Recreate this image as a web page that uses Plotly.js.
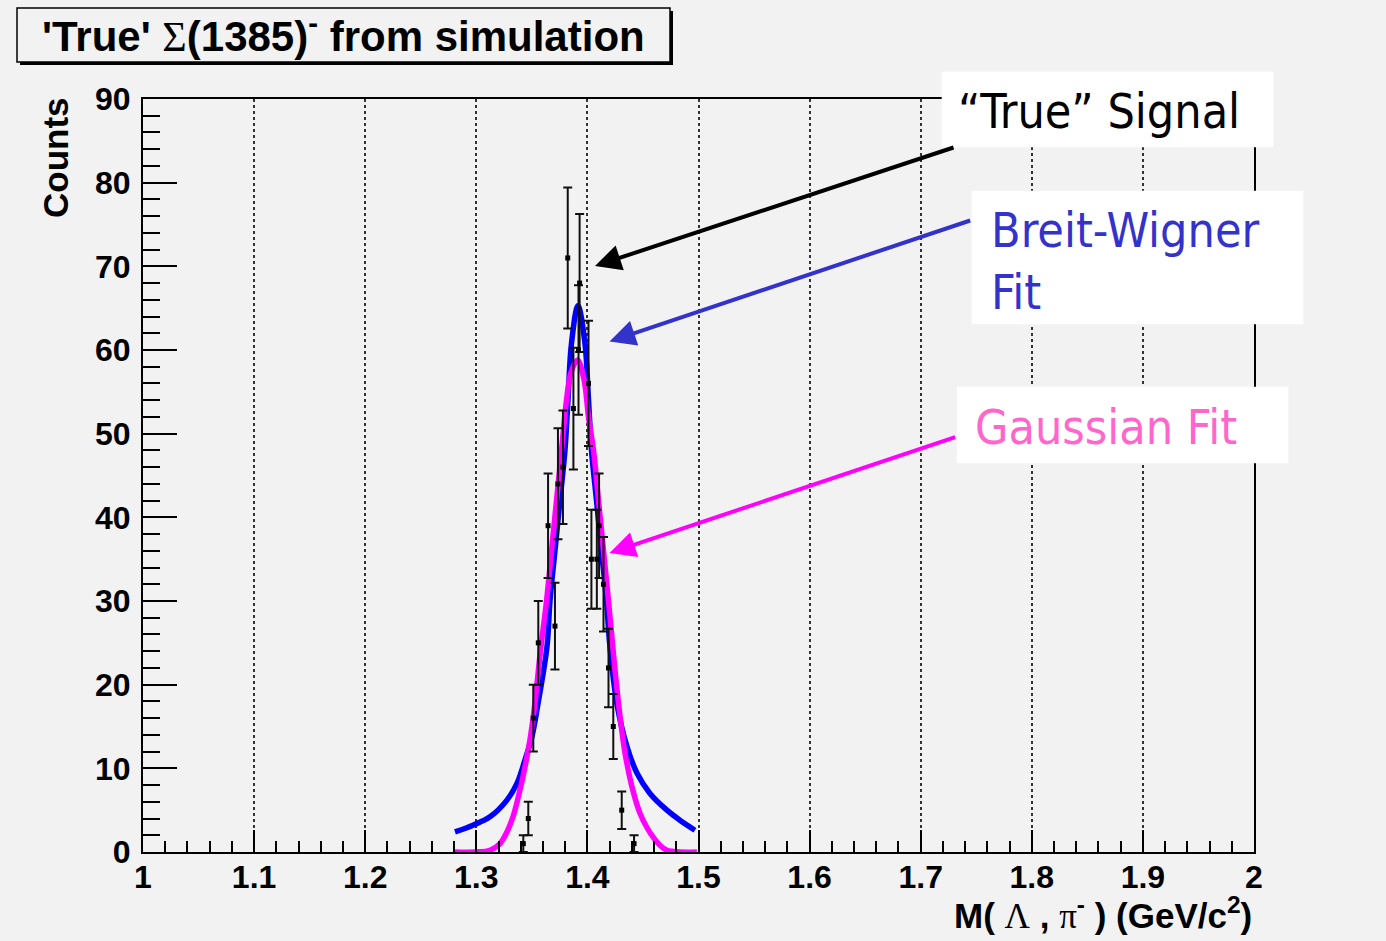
<!DOCTYPE html>
<html>
<head>
<meta charset="utf-8">
<script src="https://cdn.plot.ly/plotly-3.0.1.min.js"></script>
<style>
  html, body { margin: 0; padding: 0; background: #f2f2f2; }
  #chart { width: 1386px; height: 941px; }
</style>
</head>
<body>
<div id="chart"></div>
<script>
// Simulated Sigma(1385)- invariant mass histogram (bin centres and counts)
const massBins = [1.3423, 1.3468, 1.3513, 1.3558, 1.3646, 1.3708, 1.3735, 1.3780, 1.3823, 1.3874, 1.3920,
                  1.3930, 1.4010, 1.4036, 1.4085, 1.4105, 1.4145, 1.4190, 1.4233, 1.4309, 1.4420];
const counts   = [1, 4, 16, 25, 39, 27, 44, 46, 71, 53, 60,
                  68, 56, 35, 35, 39, 32, 22, 15, 5, 1];

// Breit-Wigner fit curve, sampled
const bwMass   = [1.2808, 1.2970, 1.3123, 1.3276, 1.3366, 1.3438, 1.3501, 1.3555, 1.3636, 1.3663, 1.3708,
                  1.3753, 1.3798, 1.3825, 1.3857, 1.3915, 1.3978, 1.4010, 1.4037, 1.4082, 1.4127, 1.4172,
                  1.4203, 1.4266, 1.4356, 1.4447, 1.4563, 1.4716, 1.4833, 1.4968];
const bwCounts = [2.4, 3.2, 4.2, 6.2, 8.2, 11, 13.8, 17.7, 24.5, 30, 36,
                  42, 48, 54, 60.8, 65.3, 60.8, 54, 48, 42, 36, 30,
                  24.5, 17.7, 12.6, 9.4, 7, 5, 3.8, 2.6];

// Gaussian fit curve, sampled
const gaussMass   = [1.2808, 1.2988, 1.3123, 1.3213, 1.3276, 1.3330, 1.3375, 1.3420, 1.3483, 1.3528, 1.3573,
                     1.3632, 1.3677, 1.3722, 1.3767, 1.3812, 1.3852, 1.3911, 1.3969, 1.4010, 1.4055, 1.4100,
                     1.4145, 1.4190, 1.4249, 1.4294, 1.4339, 1.4401, 1.4474, 1.4537, 1.4590, 1.4653, 1.4716,
                     1.4833, 1.4986];
const gaussCounts = [0, 0, 0.2, 1, 2.4, 4.2, 6.4, 9, 13.4, 17.8, 23.5,
                     30, 36, 42, 48, 54, 57.3, 58.8, 56.5, 52, 48, 42,
                     36, 30, 21.7, 16.2, 11.8, 7.8, 4.6, 2.9, 1.8, 0.8, 0.2,
                     0, 0];

const TICK_FONT = {family: 'Liberation Sans, Arial, sans-serif', size: 32, color: '#000', weight: 'bold'};
const NOTE_FONT = 'DejaVu Sans Condensed, DejaVu Sans, sans-serif';

const traces = [
  {
    x: bwMass, y: bwCounts, type: 'scatter', mode: 'lines',
    line: {color: '#0000ff', width: 5.5, shape: 'spline'},
    hoverinfo: 'skip'
  },
  {
    x: gaussMass, y: gaussCounts, type: 'scatter', mode: 'lines',
    line: {color: '#ff00ff', width: 5.5, shape: 'spline'},
    hoverinfo: 'skip'
  },
  {
    x: massBins, y: counts, type: 'scatter', mode: 'markers',
    marker: {symbol: 'square', size: 5, color: '#000'},
    error_y: {type: 'sqrt', visible: true, color: '#111', thickness: 2, width: 4.5}
  }
];

// pixel helpers for placing decorations relative to the plot box
const L = 143, R = 1254, T = 99, B = 852;
const px = v => (v - L) / (R - L);
const py = v => (B - v) / (B - T);

const shapes = [
  // title pave: shadow then box
  {type: 'rect', xref: 'paper', yref: 'paper', layer: 'above',
   x0: px(20), x1: px(673), y0: py(65), y1: py(11),
   fillcolor: '#000', line: {width: 0}},
  {type: 'rect', xref: 'paper', yref: 'paper', layer: 'above',
   x0: px(17), x1: px(670), y0: py(62), y1: py(8),
   fillcolor: '#f2f2f2', line: {color: '#000', width: 1.5}},
  // white label boxes
  {type: 'rect', xref: 'paper', yref: 'paper', layer: 'above',
   x0: px(941.7), x1: px(1273.3), y0: py(147.3), y1: py(71.7),
   fillcolor: '#ffffff', line: {width: 0}},
  {type: 'rect', xref: 'paper', yref: 'paper', layer: 'above',
   x0: px(971.7), x1: px(1303.3), y0: py(324.3), y1: py(190.7),
   fillcolor: '#ffffff', line: {width: 0}},
  {type: 'rect', xref: 'paper', yref: 'paper', layer: 'above',
   x0: px(956.7), x1: px(1288.3), y0: py(463.3), y1: py(386.7),
   fillcolor: '#ffffff', line: {width: 0}}
];

const arrow = (hx, hy, tx, ty, color) => ({
  xref: 'paper', yref: 'paper', x: px(hx), y: py(hy),
  ax: tx - hx, ay: ty - hy, text: '', showarrow: true,
  arrowhead: 2, arrowsize: 1.3, arrowwidth: 4, arrowcolor: color, standoff: 0
});

const SERIF = "font-weight:normal;font-family:'Liberation Serif',serif";

const annotations = [
  arrow(595, 266, 955, 147, '#000000'),
  arrow(609.5, 341.5, 971.7, 220, '#3333cc'),
  arrow(609.5, 553, 956.7, 436.7, '#ff00ff'),
  {
    xref: 'paper', yref: 'paper', x: px(343), y: py(33), xanchor: 'center', yanchor: 'middle',
    text: "'True' <span style=\"" + SERIF + "\">Σ</span>(1385)<sup>-</sup> from simulation",
    showarrow: false,
    font: {family: 'Liberation Sans, Arial, sans-serif', size: 42, color: '#000', weight: 'bold'}
  },
  {
    xref: 'paper', yref: 'paper', x: px(55), y: py(158), xanchor: 'center', yanchor: 'middle',
    text: 'Counts', textangle: -90, showarrow: false,
    font: {family: 'Liberation Sans, Arial, sans-serif', size: 35, color: '#000', weight: 'bold'}
  },
  {
    xref: 'paper', yref: 'paper', x: px(1254), y: py(913), xanchor: 'right', yanchor: 'middle',
    text: "M( <span style=\"" + SERIF + "\">Λ</span> , <span style=\"" + SERIF + "\">π</span><sup>-</sup> ) (GeV/c<sup>2</sup>)",
    showarrow: false,
    font: {family: 'Liberation Sans, Arial, sans-serif', size: 35, color: '#000', weight: 'bold'}
  },
  {
    xref: 'paper', yref: 'paper', x: px(956), y: py(111), xanchor: 'left', yanchor: 'middle',
    text: '“True” Signal', showarrow: false, align: 'left',
    font: {family: NOTE_FONT, size: 48, color: '#000000'}
  },
  {
    xref: 'paper', yref: 'paper', x: px(989), y: py(261), xanchor: 'left', yanchor: 'middle',
    text: 'Breit-Wigner<br>Fit', showarrow: false, align: 'left',
    font: {family: NOTE_FONT, size: 48, color: '#3333cc'}
  },
  {
    xref: 'paper', yref: 'paper', x: px(973), y: py(427), xanchor: 'left', yanchor: 'middle',
    text: 'Gaussian Fit', showarrow: false, align: 'left',
    font: {family: NOTE_FONT, size: 48, color: '#ff66cc'}
  }
];

const layout = {
  width: 1386, height: 941,
  margin: {l: L, r: 1386 - R, t: T, b: 941 - B, pad: 0},
  paper_bgcolor: '#f2f2f2',
  plot_bgcolor: 'rgba(0,0,0,0)',
  showlegend: false,
  xaxis: {
    range: [1, 2], tick0: 1, dtick: 0.1,
    ticks: 'inside', ticklen: 22, tickwidth: 2, tickcolor: '#000',
    minor: {dtick: 0.02, ticks: 'inside', ticklen: 11, tickwidth: 2, tickcolor: '#000', showgrid: false},
    showgrid: true, gridcolor: '#333', gridwidth: 2, griddash: 'dot',
    showline: true, linecolor: '#000', linewidth: 2, mirror: true,
    zeroline: false, tickfont: TICK_FONT, ticklabelstandoff: -4
  },
  yaxis: {
    range: [0, 90], tick0: 0, dtick: 10,
    ticks: 'inside', ticklen: 34, tickwidth: 2, tickcolor: '#000',
    minor: {dtick: 2, ticks: 'inside', ticklen: 17, tickwidth: 2, tickcolor: '#000', showgrid: false},
    showgrid: false,
    showline: true, linecolor: '#000', linewidth: 2, mirror: true,
    zeroline: false, tickfont: TICK_FONT, ticklabelstandoff: 4
  },
  shapes: shapes,
  annotations: annotations
};

Plotly.newPlot('chart', traces, layout, {staticPlot: true, displayModeBar: false});
</script>
</body>
</html>
